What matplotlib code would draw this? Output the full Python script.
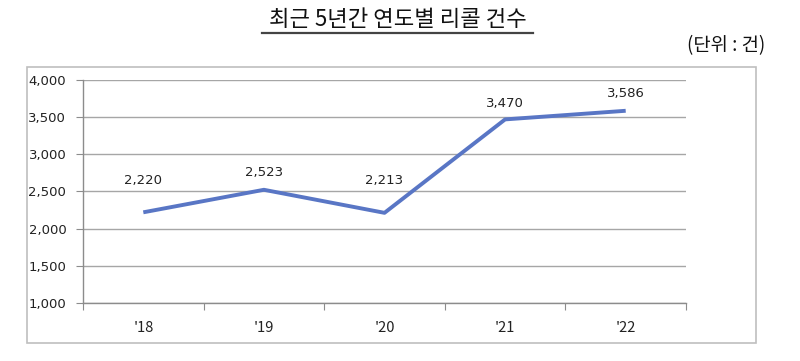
import matplotlib
matplotlib.use("Agg")
import matplotlib.pyplot as plt
from matplotlib.patches import Rectangle
from matplotlib.lines import Line2D
import numpy as np

plt.rcParams['font.family'] = ['Noto Sans CJK KR', 'DejaVu Sans']

years = ["'18", "'19", "'20", "'21", "'22"]
counts = [2220, 2523, 2213, 3470, 3586]
yticks = [1000, 1500, 2000, 2500, 3000, 3500, 4000]
# label distance above each point, in pixels (as placed in the original)
label_gap = [32, 17, 32, 16, 17]

W, H = 800, 361
fig = plt.figure(figsize=(W / 100, H / 100), dpi=100)
num_font = dict(family="DejaVu Sans", size=9.5, color="#222222")

# outer frame of the chart area
fig.patches.append(Rectangle((27 / W, 1 - 343 / H), (756 - 27) / W, (343 - 67) / H,
                             transform=fig.transFigure, fill=False,
                             edgecolor="#bfbfbf", linewidth=1.2))

ax = fig.add_axes([83 / W, 1 - 303 / H, (686 - 83) / W, (303 - 80) / H])
x = np.arange(len(years))
ax.plot(x, counts, color="#5976c5", linewidth=2.8, solid_capstyle="butt")
for xi, v, g in zip(x, counts, label_gap):
    ax.annotate(f"{v:,}", (xi, v), xytext=(0, g * 0.72), textcoords="offset points",
                ha="center", va="center", **num_font)

ax.set_xlim(-0.5, len(years) - 0.5)
ax.set_ylim(1000, 4000)
ax.set_yticks(yticks)
ax.set_yticklabels([f"{t:,}" for t in yticks], **num_font)
ax.yaxis.grid(True, color="#a6a6a6", linewidth=1)
ax.set_axisbelow(True)

ax.set_xticks(np.arange(-0.5, len(years), 1.0))
ax.set_xticklabels([])
ax.set_xticks(x, minor=True)
ax.set_xticklabels(years, minor=True, fontsize=10.5, color="#222222")
ax.tick_params(axis="x", which="major", length=5, color="#8c8c8c", direction="out")
ax.tick_params(axis="x", which="minor", length=0, pad=13)
ax.tick_params(axis="y", length=5, color="#8c8c8c", pad=7)

for s in ["top", "right"]:
    ax.spines[s].set_visible(False)
for s in ["left", "bottom"]:
    ax.spines[s].set_color("#8c8c8c")
    ax.spines[s].set_linewidth(1)

# title with underline
fig.text(398 / W, 1 - 19 / H, "최근 5년간 연도별 리콜 건수", ha="center", va="center",
         fontsize=16, color="#111111")
fig.lines.append(Line2D([262 / W, 533 / W], [1 - 33 / H, 1 - 33 / H],
                        transform=fig.transFigure, color="#444444", linewidth=1.6))
fig.text(765 / W, 1 - 46 / H, "(단위 : 건)", ha="right", va="center",
         fontsize=13.5, color="#111111")

fig.savefig("out.png", dpi=100)
